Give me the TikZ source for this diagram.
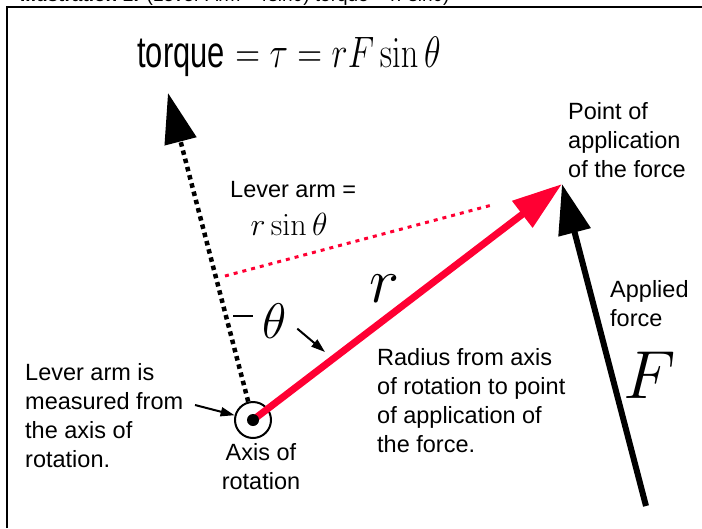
\documentclass[tikz,border=0pt]{standalone}
\usepackage{fix-cm}
\usepackage[no-math]{fontspec}
\newfontfamily\arialfont{Liberation Sans}
\newfontfamily\narrowfont[FakeStretch=0.9]{Liberation Sans}
\usetikzlibrary{arrows.meta,positioning}
\definecolor{vecred}{RGB}{255,0,51}

\begin{document}
\begin{tikzpicture}[
    x=1pt, y=-1pt,
    note/.style={font=\arialfont\fontsize{23.5}{29}\selectfont, align=left, inner sep=0pt},
    bigmath/.style={inner sep=0pt, anchor=base},
    bigarrow/.style={-{Triangle[length=50pt,width=32pt]}, line width=6pt},
    smallarrow/.style={-{Triangle[length=14pt,width=9pt]}, line width=2pt},
    levarrow/.style={-{Triangle[length=50pt,width=32pt]}, line width=4.5pt, dash pattern=on 4.5pt off 4pt},
    armline/.style={vecred, line width=3pt, dash pattern=on 4pt off 5pt}
]
\useasboundingbox (0,0) rectangle (702,528);
% caption, cut off at the top
\begin{scope}
\clip (0,0) rectangle (702,528);
\node[font=\arialfont\fontsize{19}{23}\selectfont, anchor=base west, inner sep=0pt] (caption) at (20,1.5)
    {\textbf{Illustration 1:} (Lever Arm = rsinθ) torque = rFsinθ)};
\end{scope}
\draw[line width=2pt] (7,528) -- (7,7) -- (702,7);

% formula
\node[bigmath, font=\fontsize{44}{50}\selectfont] (formula) at (289,67)
    {\scalebox{0.78}[1]{{\narrowfont torque} $= \tau = rF\sin\theta$}};

% points
\node[circle, draw, line width=2pt, minimum size=36pt, inner sep=0pt] (axis) at (253,420) {};
\coordinate (levtip) at (168,93);
\coordinate (poa) at (562,184);
\coordinate (ftail) at (646,506);
\coordinate (armstart) at (225,276);
\coordinate (armend) at (492,205);
\coordinate (ptrstart) at (195,405);

% labels
\node[note, anchor=north west] (poalabel) at (568,102) {Point of\\application\\of the force};
\node[note, anchor=north west] (armtext) at (230,181) {Lever arm =};
\node[bigmath, font=\fontsize{32}{36}\selectfont] (armmath) at (289,235) {$r\sin\theta$};
\node[note, anchor=north west] (applied) at (610,280) {Applied\\force};
\node[note, anchor=north west] (radius) at (377,348) {Radius from axis\\of rotation to point\\of application of\\the force.};
\node[note, anchor=north west] (measured) at (25,363) {Lever arm is\\measured from\\the axis of\\rotation.};
\node[note, align=center, below=4pt of axis, xshift=8pt] (axislabel) {Axis of\\rotation};
\node[bigmath, font=\fontsize{64}{70}\selectfont] (rlabel) at (384,302) {$r$};
\node[bigmath, font=\fontsize{68}{74}\selectfont] (flabel) at (650,398) {$F$};
\node[bigmath, font=\fontsize{50}{56}\selectfont] (thlabel) at (275,338) {$\theta$};
\coordinate (thptr) at (325,352);

% vectors
\draw[levarrow] (axis) -- (levtip);
\draw[armline] (armstart) -- (armend);
\draw[bigarrow, vecred, line width=7pt] (axis.center) -- (poa);
\draw[bigarrow] (ftail) -- (poa);
\fill (axis.center) circle (6pt);

% pointers
\draw[smallarrow] (ptrstart) -- (axis);
\draw[line width=2pt] ([xshift=-10pt,yshift=4.5pt]thlabel.west) -- ++(-20,0);
\draw[smallarrow] ([xshift=10pt,yshift=-8pt]thlabel.east) -- (thptr);
\end{tikzpicture}
\end{document}
